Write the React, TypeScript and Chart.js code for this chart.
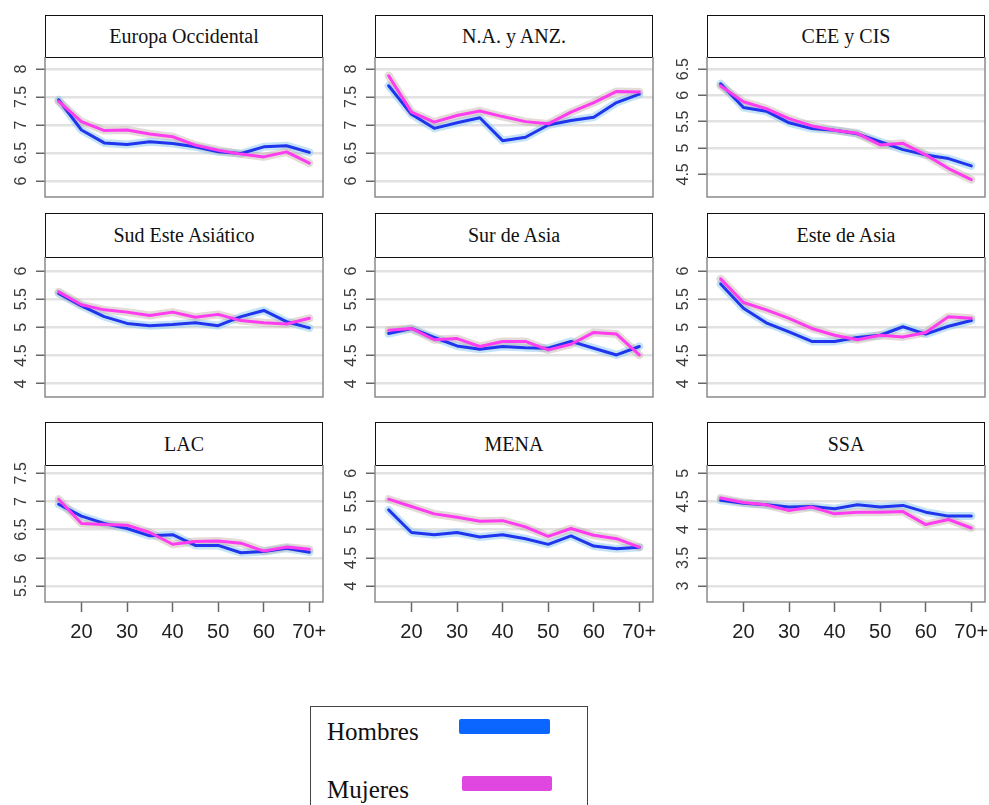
import React, { useEffect, useRef } from 'react';
import { Chart, registerables } from 'chart.js';

Chart.register(...registerables);

// ---------- data ----------
const AGES = [15, 20, 25, 30, 35, 40, 45, 50, 55, 60, 65, 70];
const X_TICKS = [20, 30, 40, 50, 60, 70];
const X_TICK_LABELS = ['20', '30', '40', '50', '60', '70+'];
const SERIES_NAMES = ['Hombres', 'Mujeres'];

const REGIONS = [
  'Europa Occidental', 'N.A. y ANZ.', 'CEE y CIS',
  'Sud Este Asiático', 'Sur de Asia', 'Este de Asia',
  'LAC', 'MENA', 'SSA',
];

const HOMBRES_EUROPA = [7.45, 6.91, 6.68, 6.65, 6.70, 6.67, 6.61, 6.52, 6.49, 6.61, 6.63, 6.51];
const MUJERES_EUROPA = [7.42, 7.06, 6.90, 6.91, 6.84, 6.79, 6.64, 6.55, 6.48, 6.43, 6.52, 6.32];
const HOMBRES_NA = [7.70, 7.19, 6.94, 7.04, 7.13, 6.72, 6.78, 7.00, 7.08, 7.14, 7.40, 7.55];
const MUJERES_NA = [7.88, 7.23, 7.05, 7.17, 7.25, 7.15, 7.06, 7.02, 7.23, 7.40, 7.60, 7.59];
const HOMBRES_CEE = [6.22, 5.77, 5.70, 5.48, 5.37, 5.34, 5.27, 5.12, 4.97, 4.87, 4.80, 4.66];
const MUJERES_CEE = [6.18, 5.88, 5.75, 5.56, 5.42, 5.34, 5.28, 5.06, 5.09, 4.87, 4.61, 4.40];
const HOMBRES_SEA = [5.60, 5.38, 5.19, 5.07, 5.03, 5.05, 5.08, 5.03, 5.19, 5.30, 5.10, 4.99];
const MUJERES_SEA = [5.63, 5.40, 5.31, 5.27, 5.21, 5.27, 5.18, 5.23, 5.12, 5.08, 5.06, 5.16];
const HOMBRES_SA = [4.89, 4.98, 4.82, 4.67, 4.61, 4.66, 4.64, 4.63, 4.75, 4.63, 4.51, 4.66];
const MUJERES_SA = [4.95, 4.98, 4.78, 4.80, 4.66, 4.75, 4.75, 4.60, 4.70, 4.91, 4.88, 4.51];
const HOMBRES_EA = [5.77, 5.34, 5.08, 4.92, 4.75, 4.75, 4.82, 4.86, 5.01, 4.88, 5.02, 5.12];
const MUJERES_EA = [5.86, 5.44, 5.31, 5.16, 4.98, 4.86, 4.78, 4.86, 4.83, 4.91, 5.19, 5.16];
const HOMBRES_LAC = [6.95, 6.74, 6.61, 6.52, 6.39, 6.41, 6.22, 6.22, 6.09, 6.11, 6.17, 6.10];
const MUJERES_LAC = [7.04, 6.61, 6.59, 6.58, 6.45, 6.24, 6.29, 6.30, 6.26, 6.12, 6.19, 6.15];
const HOMBRES_MENA = [5.35, 4.95, 4.91, 4.95, 4.87, 4.91, 4.84, 4.74, 4.89, 4.71, 4.66, 4.69];
const MUJERES_MENA = [5.54, 5.41, 5.28, 5.22, 5.15, 5.16, 5.05, 4.88, 5.02, 4.90, 4.84, 4.69];
const HOMBRES_SSA = [4.52, 4.47, 4.44, 4.40, 4.41, 4.37, 4.44, 4.40, 4.43, 4.31, 4.24, 4.24];
const MUJERES_SSA = [4.56, 4.48, 4.44, 4.34, 4.40, 4.28, 4.31, 4.31, 4.32, 4.09, 4.18, 4.03];

const HOMBRES = [HOMBRES_EUROPA, HOMBRES_NA, HOMBRES_CEE, HOMBRES_SEA, HOMBRES_SA, HOMBRES_EA, HOMBRES_LAC, HOMBRES_MENA, HOMBRES_SSA];
const MUJERES = [MUJERES_EUROPA, MUJERES_NA, MUJERES_CEE, MUJERES_SEA, MUJERES_SA, MUJERES_EA, MUJERES_LAC, MUJERES_MENA, MUJERES_SSA];

const YT_6_8 = [6, 6.5, 7, 7.5, 8];
const YT_45_65 = [4.5, 5, 5.5, 6, 6.5];
const YT_4_6 = [4, 4.5, 5, 5.5, 6];
const YT_55_75 = [5.5, 6, 6.5, 7, 7.5];
const YT_3_5 = [3, 3.5, 4, 4.5, 5];
const Y_TICKS = [YT_6_8, YT_6_8, YT_45_65, YT_4_6, YT_4_6, YT_4_6, YT_55_75, YT_4_6, YT_3_5];
const Y_MIN = [5.714, 5.714, 4.07, 3.764, 3.764, 3.764, 5.216, 3.718, 2.718];
const Y_MAX = [8.214, 8.214, 6.73, 6.248, 6.248, 6.248, 7.647, 6.146, 5.146];
const X_MIN = 12.0;
const X_MAX = 73.0;

// ---------- layout ----------
const COL_LEFT = [45, 375, 707];
const PLOT_W = 278;
const ROW_TITLE_TOP = [15, 213, 422];
const ROW_PLOT_TOP = [57, 257, 465];
const ROW_PLOT_BOTTOM = [197, 397, 602];
const Y_AXIS_W = 45;
const PAD = 20;
const X_AXIS_H = 50;

const BLUE = '#1f35ee';
const PINK = '#ff3cf0';
const BLUE_BAND = 'rgba(140, 200, 240, 0.5)';
const PINK_BAND = 'rgba(185, 165, 155, 0.4)';

function fmt(v: number) {
  return Number.isInteger(v) ? String(v) : v.toFixed(1);
}

const panelBorder = {
  id: 'panelBorder',
  afterDraw(chart: any) {
    const { ctx, chartArea } = chart;
    ctx.save();
    ctx.strokeStyle = '#8a8a8a';
    ctx.lineWidth = 1.5;
    ctx.beginPath();
    ctx.moveTo(chartArea.left, chartArea.top);
    ctx.lineTo(chartArea.left, chartArea.bottom);
    ctx.lineTo(chartArea.right, chartArea.bottom);
    ctx.lineTo(chartArea.right, chartArea.top);
    ctx.stroke();
    ctx.restore();
  },
};

// rotated y tick labels (read bottom-to-top), placed on the y scale's tick pixels
const yLabels = {
  id: 'yLabels',
  afterDraw(chart: any, _args: any, opts: any) {
    const { ctx, chartArea, scales } = chart;
    const ticks: number[] = opts.ticks || [];
    ctx.save();
    ctx.font = "16px 'Liberation Sans', Arial, sans-serif";
    ctx.fillStyle = '#3a3a3a';
    ctx.textAlign = 'center';
    ctx.textBaseline = 'middle';
    for (const v of ticks) {
      const y = scales.y.getPixelForValue(v);
      ctx.save();
      ctx.translate(chartArea.left - 23, y);
      ctx.rotate(-Math.PI / 2);
      ctx.fillText(fmt(v), 0, 0);
      ctx.restore();
    }
    ctx.restore();
  },
};

function Panel({ idx }: { idx: number }) {
  const ref = useRef<HTMLCanvasElement>(null);
  const row = Math.floor(idx / 3);
  const col = idx % 3;
  const bottomRow = row === 2;
  const plotH = ROW_PLOT_BOTTOM[row] - ROW_PLOT_TOP[row];
  const w = Y_AXIS_W + PLOT_W + PAD;
  const h = PAD + plotH + (bottomRow ? X_AXIS_H : PAD);
  const left = COL_LEFT[col] - Y_AXIS_W;
  const top = ROW_PLOT_TOP[row] - PAD;

  useEffect(() => {
    const pts = (arr: number[]) => AGES.map((a, i) => ({ x: a, y: arr[i] }));
    const yTicks = Y_TICKS[idx];
    const common = { pointRadius: 0, borderJoinStyle: 'round', borderCapStyle: 'round', tension: 0 };
    const chart = new Chart(ref.current as HTMLCanvasElement, {
      type: 'line',
      data: {
        datasets: [
          { label: SERIES_NAMES[0] + ' IC', data: pts(HOMBRES[idx]), borderColor: BLUE_BAND, borderWidth: 8, order: 4, ...common },
          { label: SERIES_NAMES[1] + ' IC', data: pts(MUJERES[idx]), borderColor: PINK_BAND, borderWidth: 8, order: 3, ...common },
          { label: SERIES_NAMES[0], data: pts(HOMBRES[idx]), borderColor: BLUE, borderWidth: 3, order: 2, ...common },
          { label: SERIES_NAMES[1], data: pts(MUJERES[idx]), borderColor: PINK, borderWidth: 3, order: 1, ...common },
        ],
      },
      options: {
        animation: false,
        responsive: false,
        devicePixelRatio: 1,
        layout: { padding: { left: 0, top: PAD, right: PAD, bottom: bottomRow ? 0 : PAD } },
        plugins: {
          legend: { display: false },
          tooltip: { enabled: false },
          title: { display: false },
          yLabels: { ticks: yTicks },
        },
        scales: {
          x: {
            type: 'linear',
            min: X_MIN,
            max: X_MAX,
            display: bottomRow,
            afterBuildTicks: (s: any) => { s.ticks = X_TICKS.map((v) => ({ value: v })); },
            afterFit: (s: any) => { if (bottomRow) s.height = X_AXIS_H; },
            ticks: {
              autoSkip: false,
              maxRotation: 0,
              minRotation: 0,
              padding: 8,
              color: '#222',
              font: { family: "'Liberation Sans', Arial, sans-serif", size: 20 },
              callback: (v: any) => X_TICK_LABELS[X_TICKS.indexOf(Number(v))] ?? '',
            },
            grid: { drawOnChartArea: false, drawTicks: true, tickLength: 10, tickColor: '#666', tickWidth: 1.5, color: 'rgba(0,0,0,0)' },
            border: { display: false },
          },
          y: {
            type: 'linear',
            min: Y_MIN[idx],
            max: Y_MAX[idx],
            afterBuildTicks: (s: any) => { s.ticks = yTicks.map((v) => ({ value: v })); },
            afterFit: (s: any) => { s.width = Y_AXIS_W; },
            ticks: { display: false, autoSkip: false },
            grid: { color: '#e2e2e2', lineWidth: 2.5, drawTicks: true, tickLength: 9, tickColor: '#666', tickWidth: 1.5 },
            border: { display: false },
          },
        },
      } as any,
      plugins: [panelBorder, yLabels],
    });
    return () => chart.destroy();
  }, []);

  return (
    <canvas
      ref={ref}
      width={w}
      height={h}
      style={{ position: 'absolute', left, top, width: w, height: h }}
    />
  );
}

function TitleBox({ idx }: { idx: number }) {
  const row = Math.floor(idx / 3);
  const col = idx % 3;
  return (
    <div
      style={{
        position: 'absolute',
        left: COL_LEFT[col],
        top: ROW_TITLE_TOP[row],
        width: PLOT_W,
        height: ROW_PLOT_TOP[row] - ROW_TITLE_TOP[row] + 1,
        boxSizing: 'border-box',
        border: '1px solid #111',
        display: 'flex',
        alignItems: 'center',
        justifyContent: 'center',
        fontFamily: "'Liberation Serif', 'Times New Roman', serif",
        fontSize: 20,
        color: '#111',
        background: '#fff',
      }}
    >
      {REGIONS[idx]}
    </div>
  );
}

export default function App() {
  const legendFont = "'Liberation Serif', 'Times New Roman', serif";
  return (
    <div style={{ position: 'absolute', left: 0, top: 0, width: 989, height: 805, overflow: 'hidden', background: '#fff' }}>
      {REGIONS.map((_, i) => <TitleBox key={'t' + i} idx={i} />)}
      {REGIONS.map((_, i) => <Panel key={'p' + i} idx={i} />)}
      <div
        style={{
          position: 'absolute', left: 310, top: 706, width: 278, height: 120,
          boxSizing: 'border-box', border: '1.5px solid #444',
        }}
      />
      <div style={{ position: 'absolute', left: 327, top: 716, fontFamily: legendFont, fontSize: 25, color: '#111', lineHeight: '32px' }}>
        {SERIES_NAMES[0]}
      </div>
      <div style={{ position: 'absolute', left: 459, top: 719, width: 91, height: 15, background: '#0a66ff', borderRadius: 2 }} />
      <div style={{ position: 'absolute', left: 327, top: 774, fontFamily: legendFont, fontSize: 25, color: '#111', lineHeight: '32px' }}>
        {SERIES_NAMES[1]}
      </div>
      <div style={{ position: 'absolute', left: 462, top: 776, width: 90, height: 15, background: '#e046e0', borderRadius: 2 }} />
    </div>
  );
}
